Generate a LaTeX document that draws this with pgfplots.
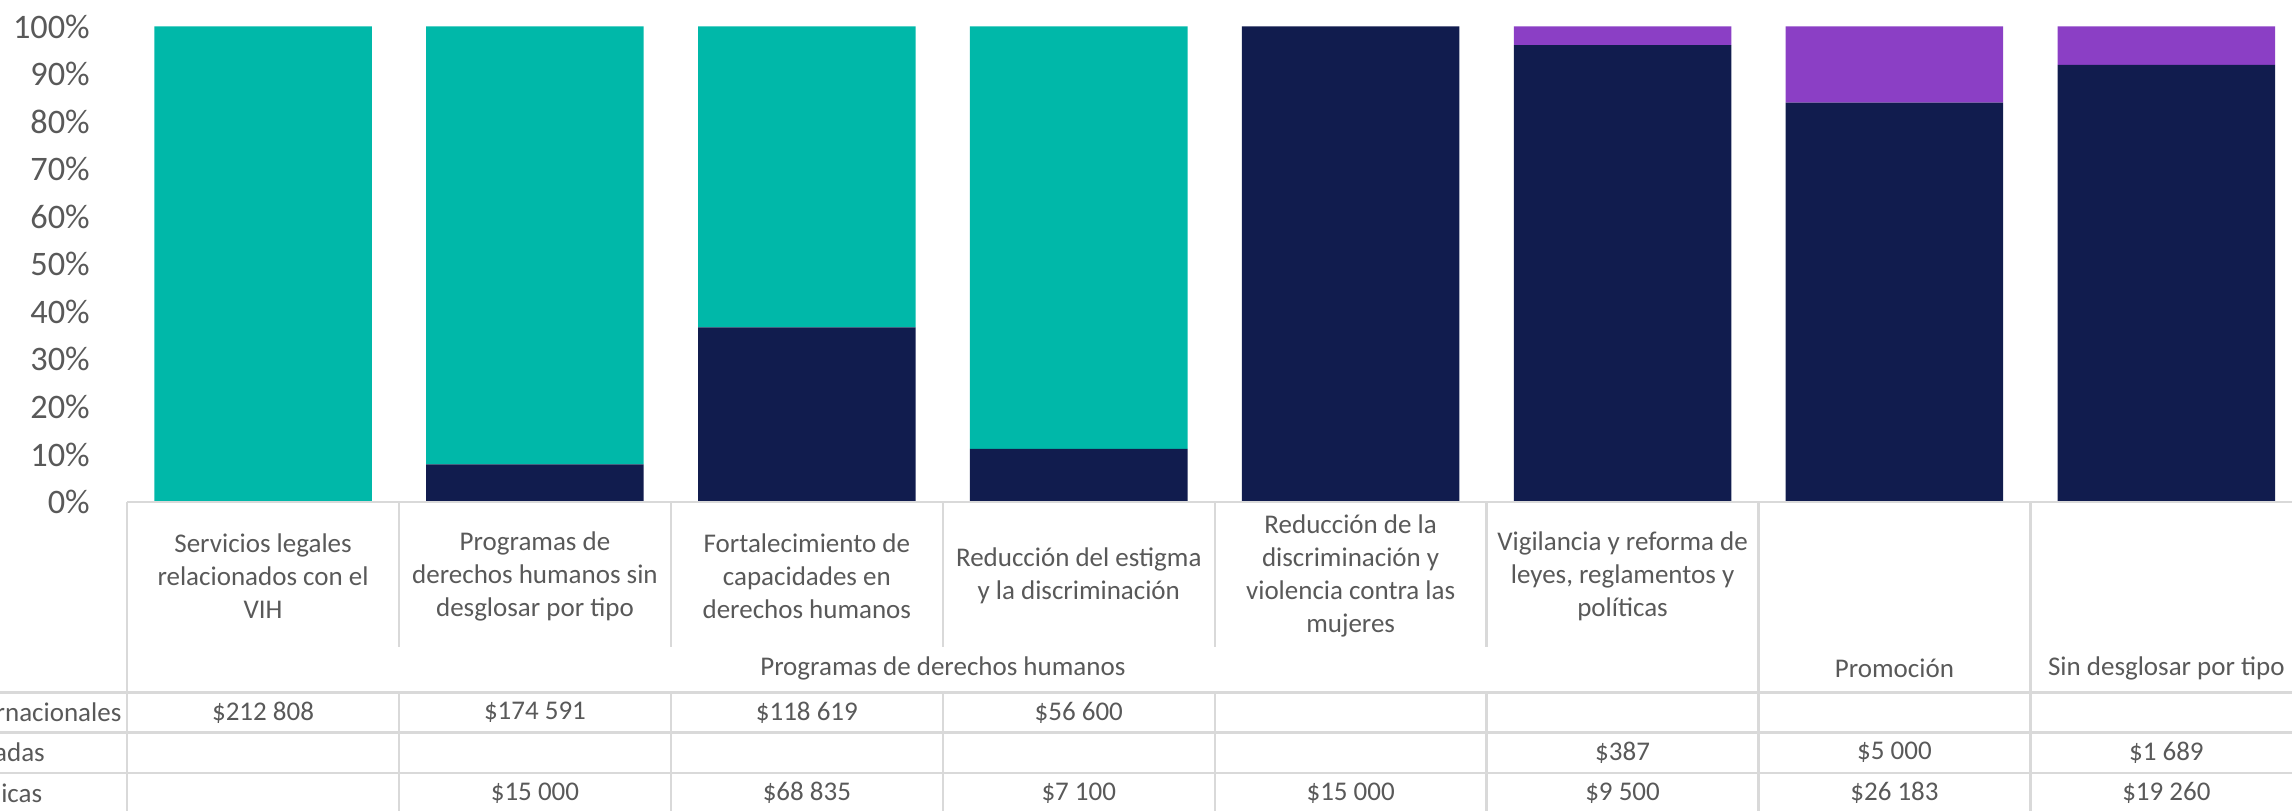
\documentclass[border=0pt]{standalone}
\usepackage{fontspec}
\setmainfont{Carlito}
\usepackage{pgfplots}
\pgfplotsset{compat=1.18}
\usepackage{pgfplotstable}
\definecolor{pub}{HTML}{111C4E}
\definecolor{intl}{HTML}{00B8A9}
\definecolor{priv}{HTML}{8B3FC5}
\definecolor{txt}{HTML}{595959}
\definecolor{rule}{HTML}{D9D9D9}

% shares in % (Públicas, Internacionales, Privadas)
\pgfplotstableread{
x   pub     intl    priv
0.5 0       100     0
1.5 7.912   92.088  0
2.5 36.721  63.279  0
3.5 11.146  88.854  0
4.5 100     0       0
5.5 96.086  0       3.914
6.5 83.966  0       16.034
7.5 91.938  0       8.062
}\shares

\begin{document}
\begin{tikzpicture}[tbl/.style={font=\fontsize{8.1}{9.9}\selectfont, text=txt, align=center, inner sep=0pt}]
\def\cw{81.57pt}
\begin{axis}[at={(0,0)}, anchor=south west, scale only axis,
  width=652.56pt, height=142.65pt,
  ybar stacked, bar width=0.8, xmin=0, xmax=8, ymin=0, ymax=100,
  axis line style={draw=none}, xtick=\empty,
  ytick={0,10,...,100},
  yticklabels={0\%,10\%,20\%,30\%,40\%,50\%,60\%,70\%,80\%,90\%,100\%},
  major tick length=0pt,
  yticklabel style={font=\fontsize{10.3}{12}\selectfont, text=txt, anchor=east, inner sep=0pt, xshift=-11pt}]
\addplot[fill=pub, draw=none] table[x=x, y=pub] {\shares};
\addplot[fill=intl, draw=none] table[x=x, y=intl] {\shares};
\addplot[fill=priv, draw=none] table[x=x, y=priv] {\shares};
\end{axis}

% data table under the chart
\begin{scope}[draw=rule, line width=0.7pt]
\draw (0,0) -- (660pt,0);
\draw (-45pt,-57.15pt) -- (660pt,-57.15pt);
\draw (-45pt,-69.15pt) -- (660pt,-69.15pt);
\draw (-45pt,-81.3pt) -- (660pt,-81.3pt);
\draw (0,0) -- (0,-95pt);
\foreach \k in {1,...,5} {
  \draw ({\k*\cw},0) -- ({\k*\cw},-43.5pt);
  \draw ({\k*\cw},-57.15pt) -- ({\k*\cw},-95pt);
}
\foreach \k in {6,7} \draw ({\k*\cw},0) -- ({\k*\cw},-95pt);
\end{scope}

\node[tbl] at ({0.5*\cw},-22.2pt) {Servicios legales\\relacionados con el\\VIH};
\node[tbl] at ({1.5*\cw},-22.2pt) {Programas de\\derechos humanos sin\\desglosar por tipo};
\node[tbl] at ({2.5*\cw},-22.2pt) {Fortalecimiento de\\capacidades en\\derechos humanos};
\node[tbl] at ({3.5*\cw},-22.2pt) {Reducción del estigma\\y la discriminación};
\node[tbl] at ({4.5*\cw},-22.2pt) {Reducción de la\\discriminación y\\violencia contra las\\mujeres};
\node[tbl] at ({5.5*\cw},-22.2pt) {Vigilancia y reforma de\\leyes, reglamentos y\\políticas};

\node[tbl] at ({3*\cw},-49.8pt) {Programas de derechos humanos};
\node[tbl] at ({6.5*\cw},-49.8pt) {Promoción};
\node[tbl] at ({7.5*\cw},-49.8pt) {Sin desglosar por tipo};

\node[tbl, anchor=west] at (-52.5pt,-63.15pt) {Internacionales};
\node[tbl, anchor=west] at (-52.5pt,-75.15pt) {Privadas};
\node[tbl, anchor=west] at (-52.5pt,-87.3pt) {Públicas};

\foreach \k/\v in {0/212~808, 1/174~591, 2/118~619, 3/56~600}
  \node[tbl] at ({(\k+0.5)*\cw},-63.15pt) {\$\v};
\foreach \k/\v in {5/387, 6/5~000, 7/1~689}
  \node[tbl] at ({(\k+0.5)*\cw},-75.15pt) {\$\v};
\foreach \k/\v in {1/15~000, 2/68~835, 3/7~100, 4/15~000, 5/9~500, 6/26~183, 7/19~260}
  \node[tbl] at ({(\k+0.5)*\cw},-87.3pt) {\$\v};

\pgfresetboundingbox
\path[use as bounding box] (-38.13pt,-92.7pt) rectangle (649.47pt,150.6pt);
\end{tikzpicture}
\end{document}
